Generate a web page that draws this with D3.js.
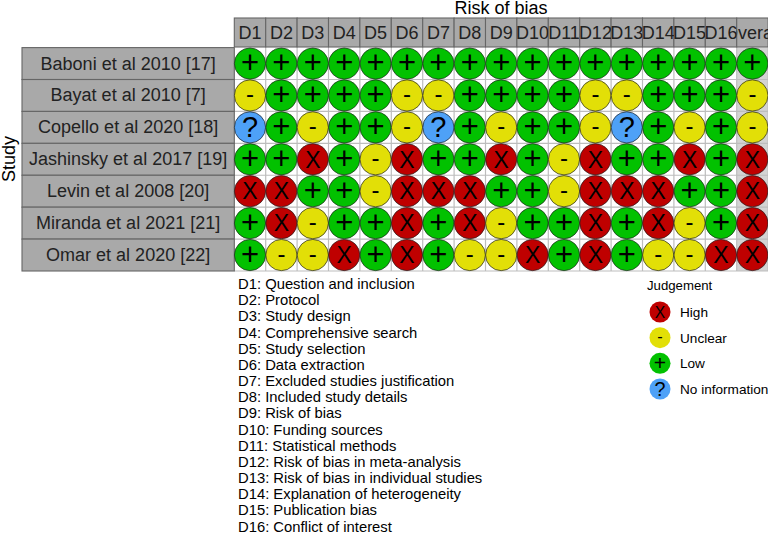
<!DOCTYPE html>
<html>
<head>
<meta charset="utf-8">
<script src="https://cdn.jsdelivr.net/npm/d3@7"></script>
<style>
  html, body { margin: 0; padding: 0; background: #fff; }
  svg { display: block; }
  text { font-family: "Liberation Sans", Arial, sans-serif; }
</style>
</head>
<body>
<svg id="chart" width="768" height="533"></svg>
<script>
var studies = ["Baboni et al 2010 [17]", "Bayat et al 2010 [7]", "Copello et al 2020 [18]",
  "Jashinsky et al 2017 [19]", "Levin et al 2008 [20]", "Miranda et al 2021 [21]", "Omar et al 2020 [22]"];

var domains = ["D1","D2","D3","D4","D5","D6","D7","D8","D9","D10","D11","D12","D13","D14","D15","D16","Overall"];

// H high, U unclear, L low, N no information
var baboni   = ["L","L","L","L","L","L","L","L","L","L","L","L","L","L","L","L","L"];
var bayat    = ["U","L","L","L","L","U","U","L","L","L","L","U","U","L","L","L","U"];
var copello  = ["N","L","U","L","L","U","N","L","U","L","L","U","N","L","U","L","U"];
var jashinsky= ["L","L","H","L","U","H","L","L","H","L","U","H","L","L","H","L","H"];
var levin    = ["H","H","L","L","U","H","H","H","L","L","U","H","H","H","L","L","H"];
var miranda  = ["L","H","U","L","L","H","L","H","U","L","L","H","L","H","U","L","H"];
var omar     = ["L","U","U","H","L","H","L","U","U","H","L","H","L","U","U","H","H"];
var judgements = [baboni, bayat, copello, jashinsky, levin, miranda, omar];

var domainNotes = ["D1: Question and inclusion","D2: Protocol","D3: Study design","D4: Comprehensive search",
  "D5: Study selection","D6: Data extraction","D7: Excluded studies justification","D8: Included study details",
  "D9: Risk of bias","D10: Funding sources","D11: Statistical methods","D12: Risk of bias in meta-analysis",
  "D13: Risk of bias in individual studies","D14: Explanation of heterogeneity","D15: Publication bias",
  "D16: Conflict of interest"];

var levels = ["H","U","L","N"];
var levelNames = ["High","Unclear","Low","No information"];
var levelColors = ["#BF0000","#E2DF07","#02C100","#4EA1F7"];
var levelSymbols = ["X","-","+","?"];

var fill = d3.scaleOrdinal().domain(levels).range(levelColors);
var symbol = d3.scaleOrdinal().domain(levels).range(levelSymbols);
var symbolSize = d3.scaleOrdinal().domain(levels).range([23, 24, 31, 29]);
var symbolShift = d3.scaleOrdinal().domain(levels).range([8.2, 6.5, 9.5, 10]);

var svg = d3.select("#chart");

var x = d3.scaleBand().domain(domains).range([234.3, 768.1]);
var y = d3.scaleBand().domain(studies).range([47.6, 271]);

var cells = [];
studies.forEach(function (s, i) {
  domains.forEach(function (d, j) {
    cells.push({ study: s, domain: d, level: judgements[i][j] });
  });
});

// panel
var panel = svg.append("g");
panel.append("rect")
  .attr("x", x.range()[0]).attr("y", y.range()[0])
  .attr("width", x.range()[1] - x.range()[0]).attr("height", y.range()[1] - y.range()[0])
  .attr("fill", "#fff");
panel.append("rect")
  .attr("x", x("Overall")).attr("y", y.range()[0])
  .attr("width", x.bandwidth()).attr("height", y.range()[1] - y.range()[0])
  .attr("fill", "#d3d3d3");

panel.selectAll("line.v").data(domains).enter().append("line")
  .attr("class", "v")
  .attr("x1", function (d) { return x(d) + x.bandwidth(); })
  .attr("x2", function (d) { return x(d) + x.bandwidth(); })
  .attr("y1", y.range()[0]).attr("y2", y.range()[1])
  .attr("stroke", "#bdbdbd").attr("stroke-width", 1.2);

panel.selectAll("line.h").data(studies).enter().append("line")
  .attr("class", "h")
  .attr("x1", x.range()[0]).attr("x2", x.range()[1])
  .attr("y1", function (d) { return y(d) + y.bandwidth(); })
  .attr("y2", function (d) { return y(d) + y.bandwidth(); })
  .attr("stroke", "#bdbdbd").attr("stroke-width", 1.2);

// top strips
var defs = svg.append("defs");
defs.selectAll("clipPath").data(domains).enter().append("clipPath")
  .attr("id", function (d) { return "clip-" + d; })
  .append("rect")
  .attr("x", function (d) { return x(d); }).attr("y", 17)
  .attr("width", x.bandwidth()).attr("height", 30);

var stripTop = svg.append("g");
stripTop.selectAll("rect").data(domains).enter().append("rect")
  .attr("x", function (d) { return x(d); }).attr("y", 18)
  .attr("width", x.bandwidth()).attr("height", 29)
  .attr("fill", "#a9a9a9").attr("stroke", "#666").attr("stroke-width", 1.1);
stripTop.selectAll("text").data(domains).enter().append("text")
  .attr("x", function (d) { return x(d) + x.bandwidth() / 2; }).attr("y", 39)
  .attr("text-anchor", "middle").attr("font-size", 18).attr("fill", "#222")
  .attr("clip-path", function (d) { return "url(#clip-" + d + ")"; })
  .text(function (d) { return d; });

// left strips
var stripLeft = svg.append("g");
stripLeft.selectAll("rect").data(studies).enter().append("rect")
  .attr("x", 22).attr("y", function (d) { return y(d); })
  .attr("width", x.range()[0] - 22).attr("height", y.bandwidth())
  .attr("fill", "#a9a9a9").attr("stroke", "#666").attr("stroke-width", 1.1);
stripLeft.selectAll("text").data(studies).enter().append("text")
  .attr("x", (22 + x.range()[0]) / 2).attr("y", function (d) { return y(d) + y.bandwidth() / 2 + 6; })
  .attr("text-anchor", "middle").attr("font-size", 18).attr("fill", "#222")
  .text(function (d) { return d; });

// judgement points
var marks = svg.append("g");
var cell = marks.selectAll("g").data(cells).enter().append("g")
  .attr("transform", function (d) {
    return "translate(" + (x(d.domain) + x.bandwidth() / 2) + "," + (y(d.study) + y.bandwidth() / 2) + ")";
  });
cell.append("circle").attr("r", 15.6)
  .attr("fill", function (d) { return fill(d.level); })
  .attr("stroke", "#222").attr("stroke-width", 0.7);
cell.append("text")
  .attr("text-anchor", "middle")
  .attr("y", function (d) { return symbolShift(d.level); })
  .attr("font-size", function (d) { return symbolSize(d.level); })
  .attr("fill", "#000")
  .text(function (d) { return symbol(d.level); });

// titles
svg.append("text").attr("x", 501).attr("y", 13.5).attr("text-anchor", "middle")
  .attr("font-size", 18).attr("fill", "#000").text("Risk of bias");
svg.append("text").attr("transform", "translate(15,159) rotate(-90)").attr("text-anchor", "middle")
  .attr("font-size", 18).attr("fill", "#000").text("Study");

// domain notes
var noteY = d3.scalePoint().domain(domainNotes).range([289, 531.5]);
svg.append("g").selectAll("text").data(domainNotes).enter().append("text")
  .attr("x", 238).attr("y", function (d) { return noteY(d); })
  .attr("font-size", 14.8).attr("fill", "#000")
  .text(function (d) { return d; });

// legend
svg.append("text").attr("x", 647).attr("y", 290).attr("font-size", 13.2).attr("fill", "#000").text("Judgement");
var legendY = d3.scalePoint().domain(levels).range([312, 389]);
var item = svg.append("g").selectAll("g").data(levels).enter().append("g")
  .attr("transform", function (d) { return "translate(660," + legendY(d) + ")"; });
item.append("circle").attr("r", 10.5).attr("fill", function (d) { return fill(d); });
item.append("text").attr("text-anchor", "middle")
  .attr("y", function (d) { return symbolShift(d) * 0.68; })
  .attr("font-size", function (d) { return symbolSize(d) * 0.68; })
  .attr("fill", "#000")
  .text(function (d) { return symbol(d); });
item.append("text").attr("x", 20).attr("y", 5)
  .attr("font-size", 13.6).attr("fill", "#000")
  .text(function (d, i) { return levelNames[i]; });
</script>
</body>
</html>
